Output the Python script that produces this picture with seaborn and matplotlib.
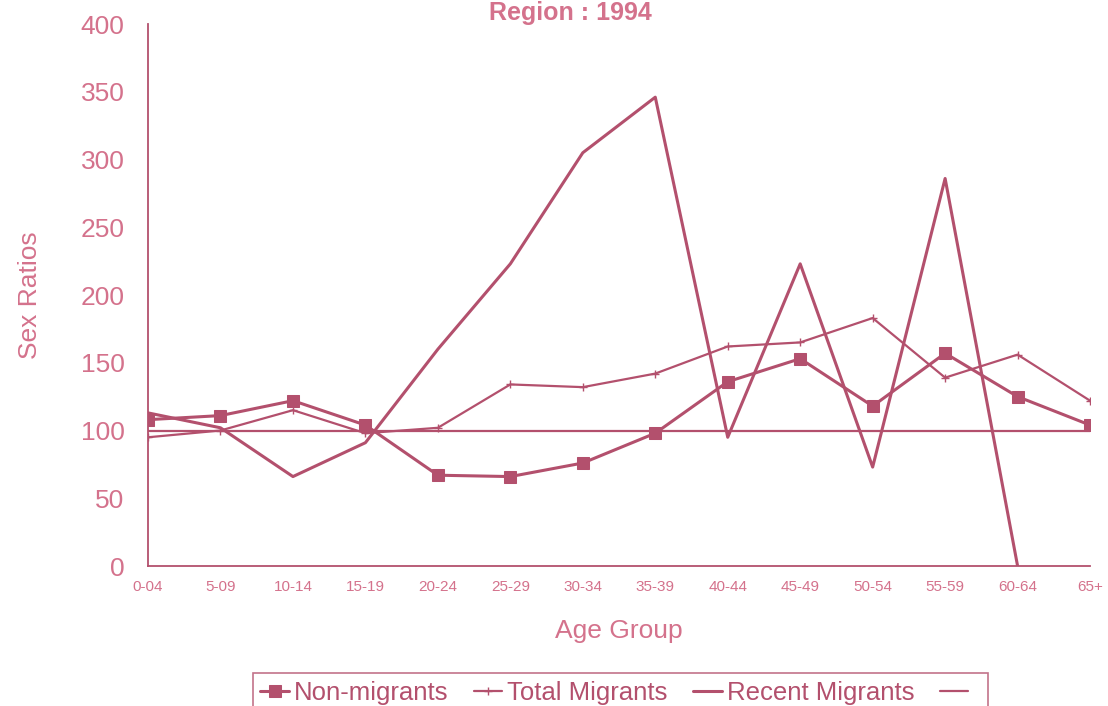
import numpy as np
import pandas as pd
import seaborn as sns
import matplotlib.pyplot as plt

age_groups = ['0-04', '5-09', '10-14', '15-19', '20-24', '25-29', '30-34',
              '35-39', '40-44', '45-49', '50-54', '55-59', '60-64', '65+']
non_migrants = [108, 111, 122, 104, 67, 66, 76, 98, 136, 153, 118, 157, 125, 104]
total_migrants = [95, 100, 115, 98, 102, 134, 132, 142, 162, 165, 183, 139, 156, 122]
recent_migrants = [113, 102, 66, 91, 160, 223, 305, 346, 95, 223, 73, 286, 0, np.nan]
parity = [100] * 14

line_col = '#b3506d'
text_col = '#d4728c'

sns.set_style('white')
plt.rcParams['font.family'] = ['Liberation Sans', 'DejaVu Sans']

fig = plt.figure(figsize=(11.08, 7.06), dpi=100)
ax = fig.add_axes([0.1336, 0.1983, 0.8502, 0.7677])

pos = np.arange(len(age_groups))
df = pd.DataFrame({'pos': pos, 'non': non_migrants, 'tot': total_migrants,
                   'rec': recent_migrants, 'par': parity})

sns.lineplot(data=df, x='pos', y='non', ax=ax, color=line_col, lw=2.2,
             marker='s', markersize=9, markeredgecolor=line_col, label='Non-migrants')
sns.lineplot(data=df, x='pos', y='tot', ax=ax, color=line_col, lw=1.6,
             marker='+', markersize=6, markeredgewidth=1,
             markeredgecolor=line_col, label='Total Migrants')
sns.lineplot(data=df.dropna(), x='pos', y='rec', ax=ax, color=line_col, lw=2.2,
             label='Recent Migrants')
sns.lineplot(data=df, x='pos', y='par', ax=ax, color=line_col, lw=1.6, label=' ')

ax.set_xlim(0, len(age_groups) - 1)
ax.set_ylim(0, 400)
ax.set_xticks(pos)
ax.set_xticklabels(age_groups, fontsize=11, color=text_col)
ax.set_yticks(range(0, 401, 50))
ax.tick_params(axis='y', labelsize=19, labelcolor=text_col, length=0, pad=17)
ax.tick_params(axis='x', length=0, pad=10)

for s in ['top', 'right']:
    ax.spines[s].set_visible(False)
for s in ['left', 'bottom']:
    ax.spines[s].set_color(line_col)
    ax.spines[s].set_linewidth(1.3)

ax.set_xlabel('Age Group', fontsize=19, color=text_col, labelpad=18)
ax.set_ylabel('Sex Ratios', fontsize=19, color=text_col, labelpad=28)

fig.text(0.515, 0.999, 'Region : 1994', fontsize=18, fontweight='bold',
         color=text_col, ha='center', va='top')

ax.get_legend().remove()
handles, labels = ax.get_legend_handles_labels()
leg = fig.legend(handles, labels, loc='upper center', bbox_to_anchor=(0.56, 0.065),
                 ncol=4, fontsize=18.5, frameon=True, fancybox=False,
                 handlelength=1.1, handletextpad=0.2, columnspacing=1.0,
                 borderpad=0.3, labelcolor=line_col)
leg.get_frame().set_edgecolor(line_col)
leg.get_frame().set_linewidth(1.2)

fig.savefig('out.png', dpi=100)
